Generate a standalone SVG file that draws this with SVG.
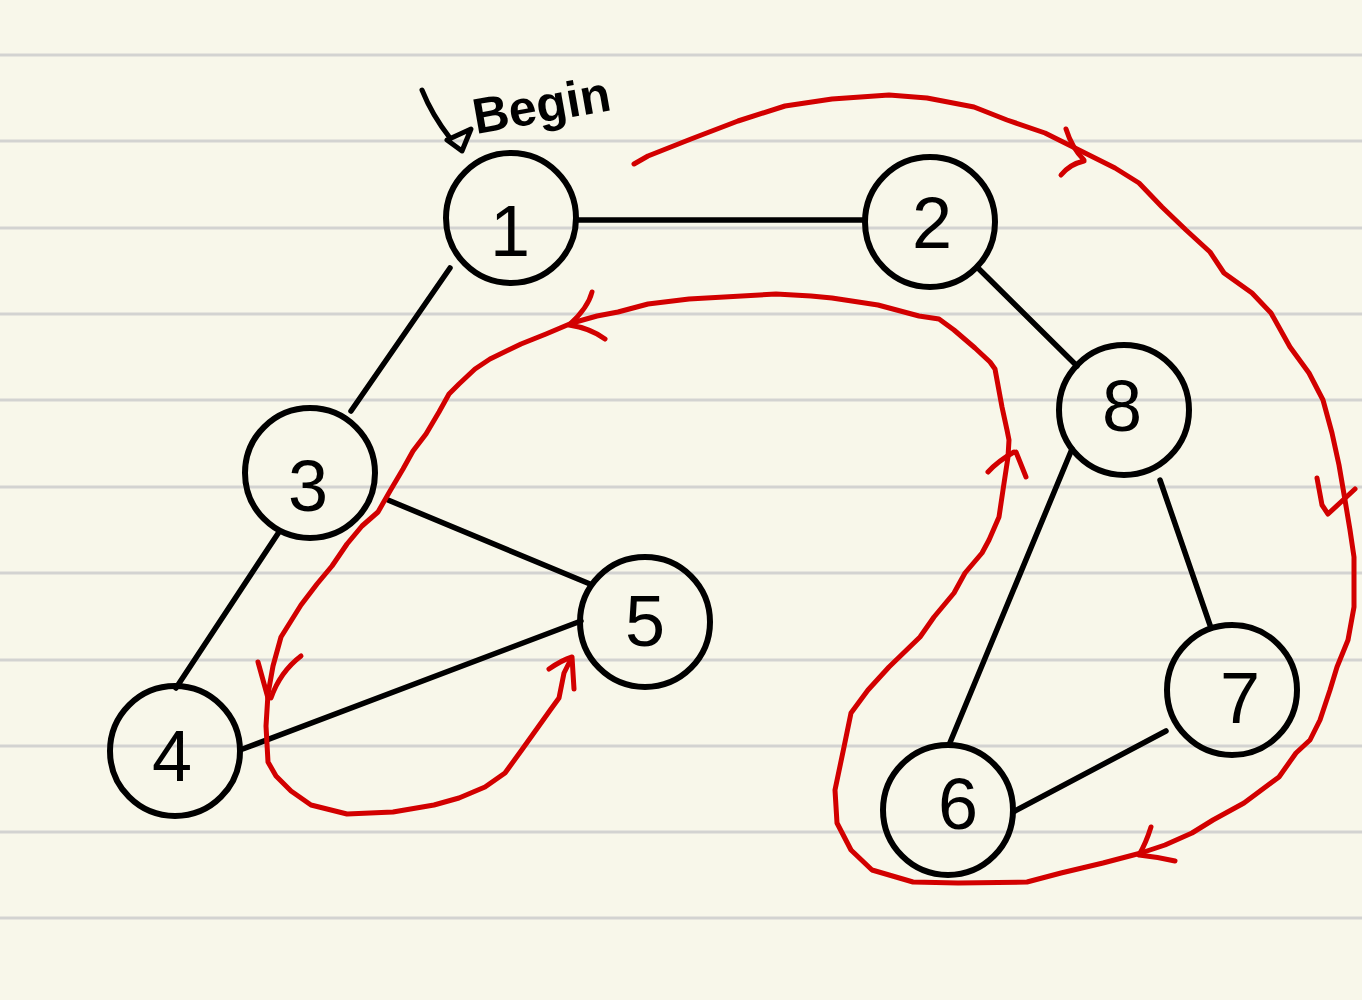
<svg xmlns="http://www.w3.org/2000/svg" width="1362" height="1000" viewBox="0 0 1362 1000">
<style>
.rule{stroke:#D3D3D1;stroke-width:3}
.node circle{fill:none;stroke:#000;stroke-width:6}
.node text{font-family:"Liberation Sans",Arial,sans-serif;font-size:72px;text-anchor:middle;fill:#000}
.edge{stroke:#000;stroke-width:5.5;stroke-linecap:round;fill:none}
.red{fill:none;stroke:#D20000;stroke-width:5;stroke-linecap:round;stroke-linejoin:round}
</style>
<rect x="0" y="0" width="1362" height="1000" fill="#F8F7EA"/>
<g id="rules">
<line class="rule" x1="0" y1="55" x2="1362" y2="55"/>
<line class="rule" x1="0" y1="141" x2="1362" y2="141"/>
<line class="rule" x1="0" y1="228" x2="1362" y2="228"/>
<line class="rule" x1="0" y1="314" x2="1362" y2="314"/>
<line class="rule" x1="0" y1="400" x2="1362" y2="400"/>
<line class="rule" x1="0" y1="487" x2="1362" y2="487"/>
<line class="rule" x1="0" y1="573" x2="1362" y2="573"/>
<line class="rule" x1="0" y1="660" x2="1362" y2="660"/>
<line class="rule" x1="0" y1="746" x2="1362" y2="746"/>
<line class="rule" x1="0" y1="832" x2="1362" y2="832"/>
<line class="rule" x1="0" y1="918" x2="1362" y2="918"/>
</g>
<g id="connectors">
<line class="edge" x1="577" y1="220" x2="865" y2="220"/>
<line class="edge" x1="450" y1="268" x2="351" y2="411"/>
<line class="edge" x1="978" y1="268" x2="1077" y2="366"/>
<line class="edge" x1="388" y1="500" x2="590" y2="584"/>
<line class="edge" x1="279" y1="532" x2="176" y2="688"/>
<line class="edge" x1="240" y1="750" x2="581" y2="621"/>
<line class="edge" x1="1072" y1="449" x2="949" y2="745"/>
<line class="edge" x1="1160" y1="480" x2="1211" y2="628"/>
<line class="edge" x1="1013" y1="812" x2="1166" y2="731"/>
</g>
<g id="traversal">
<polyline class="red" points="634,164 648,156 691,139 738,121 785,106 832,99 889,95 927,98 974,107 1007,120 1045,133 1073,147 1115,168 1139,183 1162,207 1186,230 1210,252 1224,273 1252,293 1271,313 1290,347 1309,373 1323,400 1332,433 1339,465 1345,500 1350,530 1354,557 1354,607 1348,640 1337,667 1330,690 1320,720 1310,740 1296,753 1279,777 1244,803 1213,820 1192,833 1165,845 1141,853 1103,863 1061,873 1027,882 958,883 913,882 872,870 851,850 837,823 835,790 844,747 851,713 868,690 889,667 920,637 934,617 954,593 965,573 982,553 989,540 999,517 1003,490 1008,457 1009,440 1007,430 1002,407 995,369 990,362 975,348 954,330 939,319 919,316 878,305 832,298 811,296 776,294 689,299 648,304 618,312 597,316 572,323 546,334 521,344 490,359 475,369 459,384 449,394 439,412 426,434 413,451 403,469 390,491 378,512 362,526 347,544 332,566 317,584 301,605 281,637 273,666 268,694 266,726 268,762 276,776 291,791 311,805 347,814 393,812 434,805 459,798 485,787 505,773 521,751 536,730 551,709 559,698 564,673 571,659"/>
<path class="red" d="M1066,129 Q1072,148 1084,160 M1084,161 Q1070,164 1061,175"/>
<path class="red" d="M1317,478 L1322,505 L1328,514 L1355,489"/>
<path class="red" d="M1151,827 Q1146,843 1139,855 Q1158,857 1175,861"/>
<path class="red" d="M988,472 Q998,461 1014,452 M1016,452 L1026,477"/>
<path class="red" d="M592,292 Q588,308 569,325 Q590,328 605,339"/>
<path class="red" d="M258,662 L268,698 M271,698 Q280,672 301,656"/>
<path class="red" d="M549,669 Q562,660 572,657 L574,689"/>
</g>
<g id="begin">
<path d="M422,90 Q432,115 450,138" fill="none" stroke="#000" stroke-width="5" stroke-linecap="round"/>
<polygon points="447,140 471,129 462,151" fill="none" stroke="#000" stroke-width="5" stroke-linejoin="round"/>
<text x="476" y="134" transform="rotate(-10 476 134)" font-family="Liberation Sans,Arial,sans-serif" font-size="50" font-weight="bold" fill="#000">Begin</text>
</g>
<g id="node1" class="node"><circle cx="511" cy="218" r="65"/><text x="510" y="256">1</text></g>
<g id="node2" class="node"><circle cx="930" cy="222" r="65"/><text x="932" y="248">2</text></g>
<g id="node3" class="node"><circle cx="310" cy="473" r="65"/><text x="308" y="511">3</text></g>
<g id="node4" class="node"><circle cx="175" cy="751" r="65"/><text x="172" y="781">4</text></g>
<g id="node5" class="node"><circle cx="645" cy="622" r="65"/><text x="645" y="646">5</text></g>
<g id="node6" class="node"><circle cx="948" cy="810" r="65"/><text x="958" y="829">6</text></g>
<g id="node7" class="node"><circle cx="1232" cy="690" r="65"/><text x="1240" y="723">7</text></g>
<g id="node8" class="node"><circle cx="1124" cy="410" r="65"/><text x="1122" y="431">8</text></g>
</svg>
